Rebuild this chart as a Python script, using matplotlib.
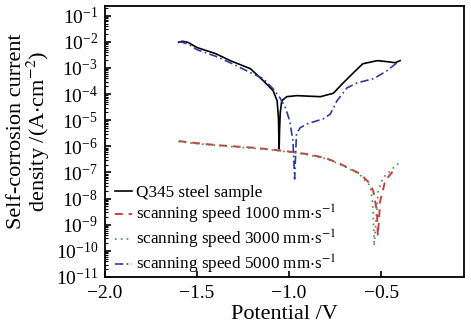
import numpy as np
import matplotlib
matplotlib.use('Agg')
import matplotlib.pyplot as plt
from matplotlib.ticker import LogLocator, NullFormatter

plt.rcParams['font.family'] = ['Liberation Serif', 'DejaVu Serif']
plt.rcParams['mathtext.fontset'] = 'stix'

# ---- data (potential V, log10 current density) ----
q345_x = [-1.60, -1.58, -1.55, -1.50, -1.40, -1.32, -1.21, -1.14, -1.087, -1.065,
          -1.058, -1.054, -1.052, -1.048, -1.040, -1.013, -0.958, -0.83, -0.76,
          -0.71, -0.65, -0.60, -0.52, -0.467, -0.424, -0.397]
q345_logy = [-2.02, -1.98, -2.02, -2.22, -2.45, -2.72, -3.03, -3.49, -3.87, -4.26,
             -4.9, -6.1, -5.4, -4.7, -4.26, -4.10, -4.06, -4.10, -3.97,
             -3.60, -3.18, -2.84, -2.72, -2.76, -2.80, -2.72]

s1000_x = [-1.60, -1.50, -1.40, -1.30, -1.20, -1.10, -1.00, -0.90, -0.80, -0.723,
           -0.614, -0.57, -0.543, -0.523, -0.518, -0.505, -0.478, -0.435, -0.415]
s1000_logy = [-5.80, -5.88, -5.95, -6.00, -6.05, -6.12, -6.20, -6.30, -6.45, -6.67,
              -7.05, -7.36, -7.70, -8.47, -9.43, -8.09, -7.32, -6.94, -6.82]

s3000_x = [-1.60, -1.50, -1.40, -1.30, -1.20, -1.10, -1.00, -0.90, -0.80, -0.72,
           -0.62, -0.56, -0.545, -0.538, -0.516, -0.49, -0.45, -0.424, -0.40]
s3000_logy = [-5.82, -5.90, -5.96, -6.02, -6.07, -6.13, -6.22, -6.32, -6.47, -6.70,
              -7.05, -7.51, -8.20, -9.81, -7.70, -7.20, -6.94, -6.75, -6.63]

s5000_x = [-1.60, -1.58, -1.55, -1.50, -1.40, -1.32, -1.21, -1.14, -1.087, -1.05,
           -1.02, -0.997, -0.979, -0.97, -0.96, -0.94, -0.902, -0.815, -0.777,
           -0.74, -0.685, -0.63, -0.54, -0.467, -0.40]
s5000_logy = [-2.00, -2.02, -2.08, -2.30, -2.55, -2.80, -3.18, -3.41, -3.80, -4.14,
              -4.52, -5.02, -5.79, -7.25, -5.52, -5.29, -5.14, -4.95, -4.77,
              -4.26, -3.76, -3.57, -3.41, -3.10, -2.72]

labels = ['Q345 steel sample',
          r'scanning speed 1000 mm$\cdot$s$^{-1}$',
          r'scanning speed 3000 mm$\cdot$s$^{-1}$',
          r'scanning speed 5000 mm$\cdot$s$^{-1}$']

fig = plt.figure(figsize=(4.71, 3.27), dpi=100)
ax = fig.add_axes([105/471, 1-277/327, 359/471, 271/327])

ax.plot(q345_x, 10**np.array(q345_logy), color='black', lw=1.2, ls='-', label=labels[0])
ax.plot(s1000_x, 10**np.array(s1000_logy), color='#d43a3a', lw=1.4, ls=(0, (4, 3)), label=labels[1])
ax.plot(s3000_x, 10**np.array(s3000_logy), color='#3f8f52', lw=1.2, ls=(0, (1, 2.5)), label=labels[2])
ax.plot(s5000_x, 10**np.array(s5000_logy), color='#2c3aa6', lw=1.2, ls=(0, (5, 2, 1, 2)), label=labels[3])

ax.set_yscale('log')
ax.set_xlim(-2.0, -0.05)
ax.set_ylim(1e-11, 10**-0.63)
ax.set_xticks([-2.0, -1.5, -1.0, -0.5])
ax.set_xticklabels(['\u22122.0', '\u22121.5', '\u22121.0', '\u22120.5'])
ax.yaxis.set_major_locator(LogLocator(base=10, numticks=20))
ax.yaxis.set_minor_locator(LogLocator(base=10, subs=np.arange(2, 10), numticks=20))
ax.yaxis.set_minor_formatter(NullFormatter())
ax.tick_params(axis='both', which='major', direction='in', length=4, width=1.2, labelsize=14)
ax.tick_params(axis='x', which='major', pad=6)
ax.tick_params(axis='y', which='major', pad=5)
ax.tick_params(axis='y', which='minor', direction='in', length=2, width=0.8)
for s in ax.spines.values():
    s.set_linewidth(1.3)

ax.set_xlabel('Potential /V', fontsize=16, labelpad=2)
ax.set_ylabel('Self-corrosion current\ndensity /(A$\\cdot$cm$^{-2}$)', fontsize=16,
              linespacing=0.95)
ax.yaxis.set_label_coords(-0.148, 0.537)

ax.legend(loc='lower left', bbox_to_anchor=(0.028, 0.004), frameon=False, fontsize=12.3,
          handlelength=1.0, handletextpad=0.2, labelspacing=0.1, borderaxespad=0,
          borderpad=0)

fig.savefig('out.png', dpi=100)
